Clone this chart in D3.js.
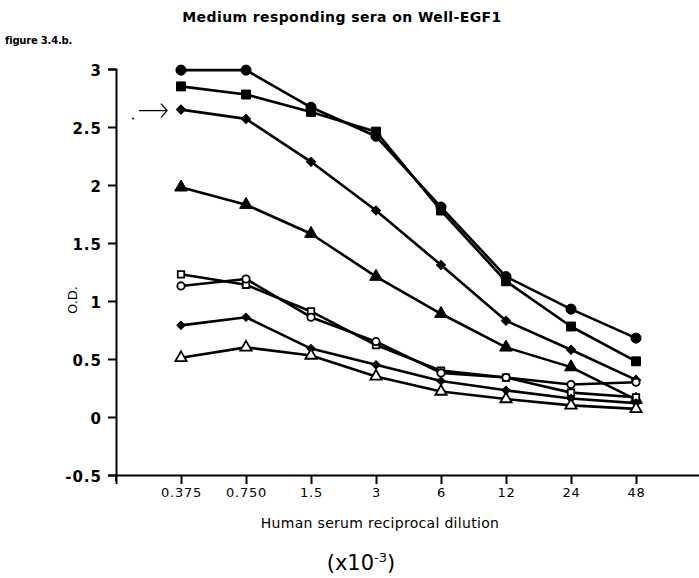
<!DOCTYPE html>
<html>
<head>
<meta charset="utf-8">
<script src="https://cdn.jsdelivr.net/npm/d3@7/dist/d3.min.js"></script>
<style>
  html, body { margin: 0; padding: 0; background: #fff; }
  svg { display: block; }
  text { fill: #000; }
</style>
</head>
<body>
<script>
// Dilution categories (reciprocal dilution x 10^-3)
const dilutions = ["0.375", "0.750", "1.5", "3", "6", "12", "24", "48"];
const yTicks = [-0.5, 0, 0.5, 1, 1.5, 2, 2.5, 3];

// O.D. readings for each serum
const serumFilledCircle  = [2.99, 2.99, 2.67, 2.42, 1.81, 1.21, 0.93, 0.68];
const serumFilledSquare  = [2.85, 2.78, 2.63, 2.46, 1.78, 1.17, 0.78, 0.48];
const serumFilledDiamond = [2.65, 2.57, 2.20, 1.78, 1.31, 0.83, 0.58, 0.32];
const serumFilledTri     = [1.98, 1.83, 1.58, 1.21, 0.89, 0.60, 0.43, 0.15];
const serumOpenSquare    = [1.23, 1.14, 0.91, 0.62, 0.40, 0.34, 0.21, 0.17];
const serumOpenCircle    = [1.13, 1.19, 0.86, 0.65, 0.38, 0.34, 0.28, 0.30];
const serumSmallDiamond  = [0.79, 0.86, 0.59, 0.45, 0.31, 0.23, 0.16, 0.12];
const serumOpenTri       = [0.51, 0.60, 0.53, 0.35, 0.22, 0.155, 0.10, 0.07];

// diamonds are squares turned by 45 degrees
const series = [
  { values: serumFilledCircle,  shape: d3.symbolCircle,   size: 80, filled: true,  rot: 0 },
  { values: serumFilledSquare,  shape: d3.symbolSquare,   size: 80, filled: true,  rot: 0 },
  { values: serumFilledDiamond, shape: d3.symbolSquare,   size: 42, filled: true,  rot: 45 },
  { values: serumFilledTri,     shape: d3.symbolTriangle, size: 70, filled: true,  rot: 0 },
  { values: serumOpenSquare,    shape: d3.symbolSquare,   size: 42, filled: false, rot: 0 },
  { values: serumOpenCircle,    shape: d3.symbolCircle,   size: 42, filled: false, rot: 0 },
  { values: serumSmallDiamond,  shape: d3.symbolSquare,   size: 34, filled: true,  rot: 45 },
  { values: serumOpenTri,       shape: d3.symbolTriangle, size: 55, filled: false, rot: 0 }
];

const W = 699, H = 578;
const svg = d3.select("body").append("svg").attr("width", W).attr("height", H);

// index 0 is the empty origin slot, categories sit at 1..8
const x = d3.scaleLinear().domain([0, 9]).range([116, 701]);
const y = d3.scaleLinear().domain([-0.5, 3]).range([475, 69]);

// Title and figure tag
svg.append("text")
  .attr("x", 342).attr("y", 22)
  .attr("text-anchor", "middle")
  .style("font-family", "'DejaVu Sans', sans-serif")
  .style("font-weight", "bold")
  .style("font-size", "14px")
  .style("letter-spacing", "0.4px")
  .text("Medium responding sera on Well-EGF1");

svg.append("text")
  .attr("x", 5).attr("y", 44)
  .style("font-family", "'DejaVu Sans', sans-serif")
  .style("font-weight", "bold")
  .style("font-size", "10px")
  .style("letter-spacing", "-0.2px")
  .text("figure 3.4.b.");

// Y axis
const yAxis = d3.axisLeft(y)
  .tickValues(yTicks)
  .tickSize(8)
  .tickSizeOuter(8)
  .tickFormat(d => String(d));
const gy = svg.append("g").attr("transform", "translate(116,0)").call(yAxis);
gy.select(".domain").attr("stroke-width", 2);
gy.selectAll(".tick line").attr("stroke-width", 2);
gy.selectAll(".tick text")
  .attr("x", -14).attr("dy", "0.45em")
  .style("font-family", "'DejaVu Sans', sans-serif")
  .style("font-weight", "bold")
  .style("font-size", "15px")
  .style("letter-spacing", "1px");
// extend the y axis a little below the x axis
gy.append("line").attr("x1", 0).attr("x2", 0).attr("y1", y(-0.5)).attr("y2", y(-0.5) + 6)
  .attr("stroke", "#000").attr("stroke-width", 2);

// X axis
const xAxis = d3.axisBottom(x)
  .tickValues(d3.range(0, 9))
  .tickSize(9)
  .tickSizeOuter(0)
  .tickFormat(i => i === 0 ? "" : dilutions[i - 1]);
const gx = svg.append("g").attr("transform", `translate(0,${y(-0.5)})`).call(xAxis);
gx.select(".domain").attr("stroke-width", 2.2);
gx.selectAll(".tick line").attr("stroke-width", 2);
gx.selectAll(".tick text")
  .attr("y", 13)
  .style("font-family", "'DejaVu Sans', sans-serif")
  .style("font-size", "13px")
  .style("letter-spacing", "0.8px");

// Axis titles
svg.append("text")
  .attr("transform", "translate(77,300) rotate(-90)")
  .attr("text-anchor", "middle")
  .style("font-family", "'DejaVu Sans', sans-serif")
  .style("font-size", "13px")
  .text("O.D.");

svg.append("text")
  .attr("x", 380).attr("y", 528)
  .attr("text-anchor", "middle")
  .style("font-family", "'DejaVu Sans', sans-serif")
  .style("font-size", "14px")
  .style("letter-spacing", "0.3px")
  .text("Human serum reciprocal dilution");

const unit = svg.append("text")
  .attr("x", 361).attr("y", 570)
  .attr("text-anchor", "middle")
  .style("font-family", "'DejaVu Sans', sans-serif")
  .style("font-size", "21px");
unit.append("tspan").text("(x10");
unit.append("tspan").attr("dy", -8).style("font-size", "13px").text("-3");
unit.append("tspan").attr("dy", 8).text(")");

// Lines
const line = d3.line()
  .x((d, i) => x(i + 1))
  .y(d => y(d));

svg.append("g").selectAll("path")
  .data(series)
  .join("path")
  .attr("d", s => line(s.values))
  .attr("fill", "none")
  .attr("stroke", "#000")
  .attr("stroke-width", 2.6)
  .attr("stroke-linejoin", "round");

// Markers
series.forEach(s => {
  svg.append("g").selectAll("path")
    .data(s.values)
    .join("path")
    .attr("transform", (d, i) => `translate(${x(i + 1)},${y(d)}) rotate(${s.rot})`)
    .attr("d", d3.symbol().type(s.shape).size(s.size))
    .attr("fill", s.filled ? "#000" : "#fff")
    .attr("stroke", "#000")
    .attr("stroke-width", s.filled ? 1 : 1.8);
});

// Arrow pointing at the highlighted serum
const ay = y(serumFilledDiamond[0]) + 1;
const arrow = svg.append("g").attr("stroke", "#000").attr("fill", "none").attr("stroke-width", 1.3);
arrow.append("line").attr("x1", 139).attr("x2", 167).attr("y1", ay).attr("y2", ay);
arrow.append("polyline").attr("points", `161,${ay - 7} 167,${ay} 161,${ay + 7}`);
svg.append("circle").attr("cx", 133).attr("cy", ay + 8).attr("r", 1).attr("fill", "#000");
</script>
</body>
</html>
